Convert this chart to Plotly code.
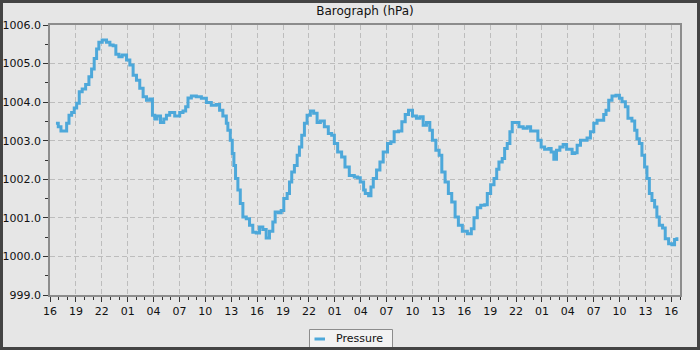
import pandas as pd
import plotly.graph_objects as go

# Hours after the start of the chart (16:00 on day 1)
hours = [
    0.69, 0.96, 1.27, 1.73, 1.93, 2.20, 2.51, 2.81, 3.09, 3.39, 3.73, 4.13, 4.51, 4.82,
    5.12, 5.40, 5.66, 6.05, 6.55, 6.94, 7.32, 7.63, 7.98, 8.36, 8.87, 9.25, 9.63, 10.02,
    10.40, 10.79, 11.18, 11.56, 11.87, 12.14, 12.40, 12.80, 13.18, 13.49, 13.87, 14.45,
    15.03, 15.41, 15.72, 15.99, 16.38, 16.96, 17.54, 18.12, 18.69, 19.27, 19.65, 20.03,
    20.43, 20.61, 20.89, 21.12, 21.31, 21.50, 21.77, 22.05, 22.35, 22.74, 23.12, 23.50,
    23.90, 24.28, 24.66, 25.05, 25.43, 25.82, 26.09, 26.47, 26.79, 27.09, 27.48, 27.75,
    28.01, 28.32, 28.64, 28.90, 29.17, 29.48, 29.79, 30.17, 30.55, 30.95, 31.33, 31.79,
    32.25, 32.64, 32.95, 33.33, 33.79, 34.18, 34.68, 35.26, 35.64, 35.95, 36.34, 36.53,
    36.92, 37.19, 37.46, 37.84, 38.23, 38.61, 39.11, 39.50, 39.88, 40.38, 40.77, 41.16,
    41.54, 42.00, 42.46, 42.86, 43.24, 43.62, 44.01, 44.31, 44.71, 45.09, 45.40, 45.78,
    46.16, 46.55, 46.94, 47.32, 47.78, 48.36, 48.82, 49.13, 49.51, 49.91, 50.37, 50.67,
    51.06, 51.45, 51.76, 52.02, 52.40, 52.68, 52.98, 53.29, 53.56, 53.95, 54.34, 54.83,
    55.30, 55.69, 56.15, 56.53, 56.91, 57.31, 57.80, 58.07, 58.38, 58.69, 59.08, 59.46,
    59.86, 60.23, 60.50, 60.81, 61.08, 61.47, 61.85, 62.23, 62.62, 63.01, 63.39, 63.78,
    64.16, 64.43, 64.74, 65.12, 65.58, 65.98, 66.28, 66.67, 66.97, 67.43, 67.75, 68.01,
    68.29, 68.59, 68.90, 69.17, 69.45, 69.75, 70.06, 70.32, 70.60, 70.98, 71.29, 71.68,
    72.06, 72.37, 72.64,
]

pressure = [
    1003.45, 1003.36, 1003.25, 1003.25, 1003.45, 1003.66, 1003.73, 1003.85, 1003.97, 1004.27,
    1004.34, 1004.46, 1004.66, 1004.86, 1005.13, 1005.38, 1005.55, 1005.61, 1005.55, 1005.48,
    1005.46, 1005.24, 1005.18, 1005.22, 1005.09, 1004.96, 1004.70, 1004.57, 1004.36, 1004.14,
    1004.05, 1004.08, 1003.66, 1003.56, 1003.64, 1003.47, 1003.56, 1003.66, 1003.73, 1003.64,
    1003.73, 1003.77, 1003.88, 1004.11, 1004.16, 1004.14, 1004.10, 1003.99, 1003.92, 1003.94,
    1003.79, 1003.64, 1003.45, 1003.27, 1003.01, 1002.67, 1002.36, 1002.02, 1001.72, 1001.37,
    1001.02, 1000.98, 1000.81, 1000.63, 1000.61, 1000.76, 1000.70, 1000.48, 1000.65, 1000.89,
    1001.15, 1001.13, 1001.19, 1001.50, 1001.63, 1001.93, 1002.19, 1002.36, 1002.62, 1002.84,
    1003.14, 1003.45, 1003.66, 1003.77, 1003.71, 1003.47, 1003.51, 1003.36, 1003.19, 1003.14,
    1002.93, 1002.71, 1002.58, 1002.32, 1002.10, 1002.06, 1002.04, 1001.93, 1001.72, 1001.63,
    1001.57, 1001.80, 1002.02, 1002.24, 1002.45, 1002.71, 1002.93, 1002.97, 1003.23, 1003.25,
    1003.49, 1003.68, 1003.79, 1003.64, 1003.58, 1003.62, 1003.40, 1003.47, 1003.27, 1003.01,
    1002.75, 1002.62, 1002.19, 1001.93, 1001.63, 1001.41, 1001.02, 1000.81, 1000.65, 1000.59,
    1000.72, 1001.00, 1001.26, 1001.33, 1001.34, 1001.63, 1001.86, 1002.02, 1002.26, 1002.45,
    1002.54, 1002.80, 1002.93, 1003.23, 1003.47, 1003.47, 1003.36, 1003.32, 1003.36, 1003.25,
    1003.25, 1003.01, 1002.84, 1002.78, 1002.80, 1002.71, 1002.52, 1002.75, 1002.84, 1002.90,
    1002.78, 1002.78, 1002.67, 1002.69, 1002.88, 1003.01, 1003.01, 1003.07, 1003.23, 1003.45,
    1003.53, 1003.53, 1003.68, 1003.79, 1004.05, 1004.16, 1004.18, 1004.10, 1004.01, 1003.88,
    1003.58, 1003.51, 1003.27, 1003.05, 1002.93, 1002.62, 1002.32, 1002.02, 1001.63, 1001.45,
    1001.28, 1001.02, 1000.81, 1000.74, 1000.46, 1000.33, 1000.30, 1000.44, 1000.50,
]

y_ticks = [999, 1000, 1001, 1002, 1003, 1004, 1005, 1006]
y_labels = ["999.0", "1000.0", "1001.0", "1002.0", "1003.0", "1004.0", "1005.0", "1006.0"]
series_name = "Pressure"

base = pd.Timestamp("2024-03-01 16:00")
times = [base + pd.Timedelta(hours=h) for h in hours]
x_start = base
x_end = base + pd.Timedelta(hours=73)

FONT = "DejaVu Sans"
BG = "#e6e6e6"
LINE = "#4da8da"
AXIS = "#8c8c8c"
GRID = "#bdbdbd"

# plot-area geometry in pixels (for converting fixed page positions to paper coords)
L, R, T, B = 50, 20, 25, 55
W, H = 700, 350
PW, PH = W - L - R, H - T - B


def px(xp):
    return (xp - L) / PW


def py(yp):
    return (H - B - yp) / PH


fig = go.Figure()
fig.add_trace(go.Scatter(
    x=times, y=pressure, mode="lines", name=series_name,
    line=dict(color=LINE, width=3, shape="hv"), showlegend=False,
))

fig.update_layout(
    width=W, height=H,
    margin=dict(l=L, r=R, t=T, b=B, autoexpand=False),
    paper_bgcolor=BG, plot_bgcolor=BG,
    font=dict(family=FONT, size=11, color="#111111"),
    title=dict(text="Barograph (hPa)", x=0.5, xanchor="center", xref="paper",
               y=1 - 11 / 350, yref="container", yanchor="middle",
               font=dict(family=FONT, size=12, color="#111111")),
    showlegend=False,
)

fig.update_xaxes(
    type="date", range=[x_start, x_end], automargin=False,
    tick0=base, dtick=3 * 3600 * 1000, tickformat="%H",
    ticks="outside", ticklen=5, tickwidth=1, tickcolor="#333333",
    showline=True, linecolor=AXIS, linewidth=1.5, mirror=True,
    showgrid=True, gridcolor=GRID, gridwidth=1, griddash="5px,3px",
    minor=dict(dtick=3600 * 1000, ticks="outside", ticklen=3, tickcolor="#333333", showgrid=False),
    tickfont=dict(family=FONT, size=11, color="#111111"),
    zeroline=False, fixedrange=True,
)
fig.update_yaxes(
    range=[999, 1006], tickvals=y_ticks, ticktext=y_labels, automargin=False,
    ticks="outside", ticklen=5, tickwidth=1, tickcolor="#333333",
    showline=True, linecolor=AXIS, linewidth=1.5, mirror=True,
    showgrid=True, gridcolor=GRID, gridwidth=1, griddash="5px,3px",
    minor=dict(tickvals=[999.5, 1000.5, 1001.5, 1002.5, 1003.5, 1004.5, 1005.5],
               ticks="outside", ticklen=3, tickcolor="#333333", showgrid=False),
    tickfont=dict(family=FONT, size=11, color="#111111"),
    zeroline=False, fixedrange=True,
)

# legend box (drawn by hand to match the short line marker)
fig.add_shape(type="rect", xref="paper", yref="paper",
              x0=px(309.5), x1=px(392.5), y0=py(349), y1=py(329.5),
              line=dict(color="#8c8c8c", width=1), fillcolor="#f2f2f2", layer="above")
fig.add_shape(type="line", xref="paper", yref="paper",
              x0=px(314.5), x1=px(325), y0=py(339), y1=py(339),
              line=dict(color=LINE, width=3), layer="above")
fig.add_annotation(text=series_name, xref="paper", yref="paper",
                   x=px(334), y=py(338.5), xanchor="left", yanchor="middle",
                   showarrow=False, font=dict(family=FONT, size=11, color="#111111"))

# dark frame around the whole image
fig.add_shape(type="rect", xref="paper", yref="paper",
              x0=px(1.5), x1=px(W - 1.5), y0=py(H - 1.5), y1=py(1.5),
              line=dict(color="#444444", width=3), fillcolor="rgba(0,0,0,0)", layer="above")

fig.write_html("out.html")
